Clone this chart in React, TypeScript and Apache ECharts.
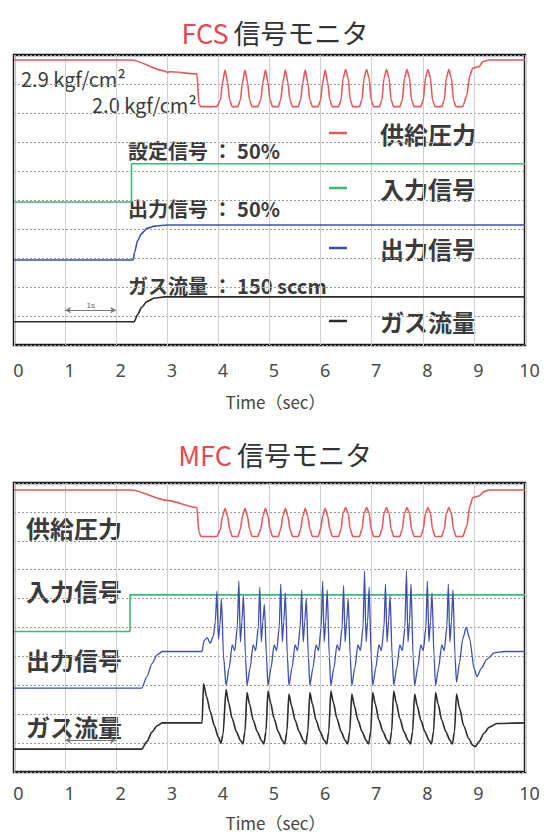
import React, { useEffect, useRef } from "react";
import * as echarts from "echarts";

const xTicks = [0, 1, 2, 3, 4, 5, 6, 7, 8, 9, 10];

// FCS (top chart) traces: [time sec, level]
const fcsPressure = [
  [0, 9.83], [2.3, 9.83], [2.95, 9.45], [3.0, 9.4], [3.05, 9.42], [3.58, 9.35], [3.62, 8.3], [3.66, 8.22], [3.97, 8.22],
  [4.04, 8.45], [4.08, 9.05], [4.13, 9.48], [4.18, 9.05], [4.22, 8.45], [4.27, 8.22], [4.38, 8.22],
  [4.43, 8.45], [4.47, 9.05], [4.52, 9.48], [4.57, 9.05], [4.61, 8.45], [4.66, 8.22], [4.77, 8.22],
  [4.83, 8.45], [4.87, 9.05], [4.92, 9.48], [4.97, 9.05], [5.01, 8.45], [5.06, 8.22], [5.17, 8.22],
  [5.22, 8.45], [5.26, 9.05], [5.31, 9.48], [5.36, 9.05], [5.4, 8.45], [5.45, 8.22], [5.56, 8.22],
  [5.61, 8.45], [5.65, 9.05], [5.7, 9.48], [5.75, 9.05], [5.79, 8.45], [5.84, 8.22], [5.95, 8.22],
  [6.0, 8.45], [6.04, 9.05], [6.09, 9.48], [6.14, 9.05], [6.18, 8.45], [6.23, 8.22], [6.35, 8.22],
  [6.4, 8.45], [6.44, 9.2], [6.49, 9.5], [6.54, 9.2], [6.58, 8.45], [6.63, 8.22], [6.76, 8.22],
  [6.81, 8.45], [6.85, 9.2], [6.9, 9.5], [6.95, 9.2], [6.99, 8.45], [7.04, 8.22], [7.15, 8.22],
  [7.2, 8.45], [7.24, 9.2], [7.29, 9.5], [7.34, 9.2], [7.38, 8.45], [7.43, 8.22], [7.55, 8.22],
  [7.6, 8.45], [7.64, 9.2], [7.69, 9.5], [7.74, 9.2], [7.78, 8.45], [7.83, 8.22], [7.96, 8.22],
  [8.01, 8.45], [8.05, 9.2], [8.1, 9.5], [8.15, 9.2], [8.19, 8.45], [8.24, 8.22], [8.37, 8.22],
  [8.42, 8.45], [8.46, 9.2], [8.51, 9.5], [8.56, 9.2], [8.6, 8.45], [8.65, 8.22], [8.78, 8.22],
  [8.86, 8.6], [8.92, 9.3], [8.98, 9.55], [9.1, 9.6], [9.18, 9.78], [9.3, 9.83], [10, 9.83],
];
const fcsInput = [[0, 4.93], [2.3, 4.93], [2.3, 6.25], [10, 6.25]];
const fcsOutput = [
  [0, 2.93], [2.33, 2.93], [2.36, 3.2], [2.42, 3.6], [2.5, 3.85], [2.6, 4.02], [2.75, 4.1], [3.0, 4.14], [10, 4.14],
];
const fcsFlow = [
  [0, 0.8], [2.35, 0.8], [2.42, 1.05], [2.5, 1.3], [2.6, 1.5], [2.75, 1.62], [2.95, 1.66], [10, 1.66],
];

// MFC (bottom chart) traces
const mfcPressure = [
  [0, 9.76], [2.3, 9.76], [3.0, 9.4], [3.58, 9.15], [3.62, 8.3], [3.66, 8.15], [3.97, 8.15],
  [4.04, 8.4], [4.08, 8.85], [4.13, 9.12], [4.18, 8.85], [4.22, 8.4], [4.27, 8.15], [4.38, 8.15],
  [4.43, 8.4], [4.47, 8.85], [4.52, 9.12], [4.57, 8.85], [4.61, 8.4], [4.66, 8.15], [4.77, 8.15],
  [4.83, 8.4], [4.87, 8.85], [4.92, 9.12], [4.97, 8.85], [5.01, 8.4], [5.06, 8.15], [5.17, 8.15],
  [5.22, 8.4], [5.26, 8.85], [5.31, 9.12], [5.36, 8.85], [5.4, 8.4], [5.45, 8.15], [5.56, 8.15],
  [5.61, 8.4], [5.65, 8.85], [5.7, 9.12], [5.75, 8.85], [5.79, 8.4], [5.84, 8.15], [5.95, 8.15],
  [6.0, 8.4], [6.04, 8.85], [6.09, 9.12], [6.14, 8.85], [6.18, 8.4], [6.23, 8.15], [6.35, 8.15],
  [6.4, 8.4], [6.44, 8.95], [6.49, 9.15], [6.54, 8.95], [6.58, 8.4], [6.63, 8.15], [6.76, 8.15],
  [6.81, 8.4], [6.85, 8.95], [6.9, 9.15], [6.95, 8.95], [6.99, 8.4], [7.04, 8.15], [7.15, 8.15],
  [7.2, 8.4], [7.24, 8.95], [7.29, 9.15], [7.34, 8.95], [7.38, 8.4], [7.43, 8.15], [7.55, 8.15],
  [7.6, 8.4], [7.64, 8.95], [7.69, 9.15], [7.74, 8.95], [7.78, 8.4], [7.83, 8.15], [7.96, 8.15],
  [8.01, 8.4], [8.05, 8.95], [8.1, 9.15], [8.15, 8.95], [8.19, 8.4], [8.24, 8.15], [8.37, 8.15],
  [8.42, 8.4], [8.46, 8.95], [8.51, 9.15], [8.56, 8.95], [8.6, 8.4], [8.65, 8.15], [8.78, 8.15],
  [8.86, 8.5], [8.92, 9.2], [8.98, 9.5], [9.1, 9.55], [9.2, 9.7], [9.3, 9.76], [10, 9.76],
];
const mfcInput = [[0, 4.86], [2.27, 4.86], [2.27, 6.13], [10, 6.13]];
const mfcOutput = [
  [0, 2.9], [2.5, 2.9], [2.6, 3.3], [2.7, 3.75], [2.8, 4.05], [2.9, 4.17], [3.68, 4.17],
  [3.72, 4.55], [3.78, 4.65], [3.84, 4.45], [3.9, 4.7], [3.94, 5.2], [3.97, 6.25], [4.0, 4.6], [4.03, 5.1], [4.06, 6.0], [4.1, 4.0],
  [4.15, 3.0], [4.21, 3.6], [4.27, 4.4], [4.32, 4.2], [4.37, 5.0], [4.4, 6.6], [4.43, 4.5], [4.46, 5.2], [4.49, 6.1], [4.53, 4.0],
  [4.56, 3.0], [4.62, 3.6], [4.68, 4.4], [4.73, 4.2], [4.78, 5.0], [4.81, 6.4], [4.84, 4.5], [4.87, 5.2], [4.9, 5.8], [4.94, 4.0],
  [4.97, 3.0], [5.03, 3.6], [5.09, 4.4], [5.14, 4.2], [5.19, 5.0], [5.22, 6.5], [5.25, 4.5], [5.28, 5.2], [5.31, 6.2], [5.35, 4.0],
  [5.38, 3.0], [5.44, 3.6], [5.5, 4.4], [5.55, 4.2], [5.6, 5.0], [5.63, 6.3], [5.66, 4.5], [5.69, 5.2], [5.72, 6.0], [5.76, 4.0],
  [5.79, 3.0], [5.85, 3.6], [5.91, 4.4], [5.96, 4.2], [6.01, 5.0], [6.04, 6.6], [6.07, 4.5], [6.1, 5.2], [6.13, 6.3], [6.17, 4.0],
  [6.2, 3.0], [6.26, 3.6], [6.32, 4.4], [6.37, 4.2], [6.42, 5.0], [6.45, 6.45], [6.48, 4.5], [6.51, 5.2], [6.54, 6.0], [6.58, 4.0],
  [6.61, 3.0], [6.67, 3.6], [6.73, 4.4], [6.78, 4.2], [6.83, 5.0], [6.86, 6.95], [6.89, 4.5], [6.92, 5.2], [6.95, 6.4], [6.99, 4.0],
  [7.02, 3.0], [7.08, 3.6], [7.14, 4.4], [7.19, 4.2], [7.24, 5.0], [7.27, 6.5], [7.3, 4.5], [7.33, 5.2], [7.36, 6.1], [7.4, 4.0],
  [7.43, 3.0], [7.49, 3.6], [7.55, 4.4], [7.6, 4.2], [7.65, 5.0], [7.68, 6.95], [7.71, 4.5], [7.74, 5.2], [7.77, 6.5], [7.81, 4.0],
  [7.84, 3.0], [7.9, 3.6], [7.96, 4.4], [8.01, 4.2], [8.06, 5.0], [8.09, 6.6], [8.12, 4.5], [8.15, 5.2], [8.18, 6.2], [8.22, 4.0],
  [8.25, 3.0], [8.31, 3.6], [8.37, 4.4], [8.42, 4.2], [8.47, 5.0], [8.5, 6.5], [8.53, 4.5], [8.56, 5.2], [8.59, 6.3], [8.63, 4.0],
  [8.66, 3.1], [8.72, 3.8], [8.78, 4.6], [8.85, 5.0], [8.92, 4.6], [9.0, 3.6], [9.06, 3.3], [9.15, 3.6], [9.25, 3.9], [9.4, 4.12], [9.6, 4.17], [10, 4.17],
];
const mfcFlow = [
  [0, 0.79], [2.5, 0.79], [2.6, 1.05], [2.7, 1.38], [2.8, 1.6], [2.9, 1.7], [3.68, 1.7], [3.71, 3.05],
  [3.77, 2.6], [3.84, 2.1], [3.92, 1.6], [4.0, 1.2], [4.05, 1.0], [4.09, 1.3],
  [4.15, 2.85], [4.2, 2.4], [4.27, 1.85], [4.35, 1.4], [4.43, 1.1], [4.48, 0.97], [4.52, 1.4],
  [4.56, 2.75], [4.61, 2.35], [4.68, 1.8], [4.76, 1.4], [4.84, 1.1], [4.89, 0.97], [4.93, 1.4],
  [4.97, 2.8], [5.02, 2.4], [5.09, 1.85], [5.17, 1.4], [5.25, 1.1], [5.3, 0.97], [5.34, 1.4],
  [5.38, 2.7], [5.43, 2.3], [5.5, 1.8], [5.58, 1.4], [5.66, 1.1], [5.71, 0.97], [5.75, 1.4],
  [5.79, 2.75], [5.84, 2.35], [5.91, 1.8], [5.99, 1.4], [6.07, 1.1], [6.12, 0.97], [6.16, 1.4],
  [6.2, 2.8], [6.25, 2.4], [6.32, 1.85], [6.4, 1.4], [6.48, 1.1], [6.53, 0.97], [6.57, 1.4],
  [6.61, 2.7], [6.66, 2.3], [6.73, 1.8], [6.81, 1.4], [6.89, 1.1], [6.94, 0.97], [6.98, 1.4],
  [7.02, 2.75], [7.07, 2.35], [7.14, 1.8], [7.22, 1.4], [7.3, 1.1], [7.35, 0.97], [7.39, 1.4],
  [7.43, 2.8], [7.48, 2.4], [7.55, 1.85], [7.63, 1.4], [7.71, 1.1], [7.76, 0.97], [7.8, 1.4],
  [7.84, 2.7], [7.89, 2.3], [7.96, 1.8], [8.04, 1.4], [8.12, 1.1], [8.17, 0.97], [8.21, 1.4],
  [8.25, 2.75], [8.3, 2.35], [8.37, 1.8], [8.45, 1.4], [8.53, 1.1], [8.58, 0.97], [8.62, 1.4],
  [8.66, 2.7], [8.72, 2.2], [8.8, 1.6], [8.9, 1.15], [8.98, 0.92], [9.03, 0.88], [9.1, 1.05], [9.2, 1.35], [9.3, 1.55], [9.45, 1.68], [10, 1.7],
];

const legendNames = ["供給圧力", "入力信号", "出力信号", "ガス流量"];
const fcsNotes = ["2.9 kgf/cm²", "2.0 kgf/cm²", "設定信号 ： 50%", "出力信号 ： 50%", "ガス流量 ： 150 sccm"];
const scaleSpan = [1, 2];

const RED = "#e35a5e";
const GREEN = "#3fb877";
const BLUE = "#3d4fae";
const BLACK = "#2a2a2a";
const TXT = "#3a3a3a";
const FONT = "'Noto Sans CJK JP', 'Noto Sans', sans-serif";

function xAxisFor(gridIndex: number, nameGap: number, labelMargin: number) {
  return {
    type: "value",
    gridIndex,
    min: 0,
    max: 10,
    interval: 1,
    axisLine: { show: false },
    axisTick: { show: false },
    axisLabel: { fontSize: 18, color: "#4a4a4a", margin: labelMargin, padding: [0, 0, 0, 9], fontFamily: "'Noto Sans', sans-serif" },
    splitLine: { show: true, lineStyle: { color: "#cfcfcf", width: 1, type: "solid" } },
    name: "Time（sec）",
    nameLocation: "middle",
    nameGap,
    nameTextStyle: { fontSize: 17, color: "#444", fontFamily: FONT, padding: [0, 0, 0, 12] },
    data: xTicks,
  };
}
function yAxisFor(gridIndex: number) {
  return {
    type: "value",
    gridIndex,
    min: 0,
    max: 10,
    interval: 1,
    axisLine: { show: false },
    axisTick: { show: false },
    axisLabel: { show: false },
    splitLine: { show: true, lineStyle: { color: "#9a9a9a", width: 1, type: [2, 2] } },
  };
}
function line(data: number[][], color: string, idx: number, extra: any = {}) {
  return {
    type: "line",
    xAxisIndex: idx,
    yAxisIndex: idx,
    data,
    showSymbol: false,
    symbol: "none",
    smooth: 0.25,
    smoothMonotone: "x",
    lineStyle: { color, width: 1.6 },
    silent: true,
    ...extra,
  };
}
function spanMark(y: number, showLabel: boolean) {
  return {
    silent: true,
    symbol: ["arrow", "arrow"],
    symbolSize: [5, 6],
    lineStyle: { color: "#777", width: 1, type: "solid" },
    label: { show: showLabel, formatter: "1s", position: "middle", fontSize: 8, color: "#666", distance: 1 },
    data: [[{ coord: [scaleSpan[0], y] }, { coord: [scaleSpan[1], y] }]],
  };
}

export default function App() {
  const ref = useRef<HTMLDivElement>(null);
  useEffect(() => {
    const chart = echarts.init(ref.current!, null, { renderer: "svg" });
    const legendYs = [133, 188, 248, 321];
    const legendColors = [RED, GREEN, BLUE, BLACK];
    const graphics: any[] = [];
    legendNames.forEach((n, i) => {
      graphics.push({
        type: "line",
        shape: { x1: 329, y1: legendYs[i], x2: 347, y2: legendYs[i] },
        style: { stroke: legendColors[i], lineWidth: 2.5 },
        silent: true,
      });
      graphics.push({
        type: "text",
        x: 380,
        y: legendYs[i],
        style: { text: n, fontSize: 24, fontWeight: "bold", fill: TXT, fontFamily: FONT, verticalAlign: "middle" },
        silent: true,
      });
    });
    const noteSpecs = [
      { x: 21, y: 78, size: 20, bold: false },
      { x: 92, y: 104, size: 20, bold: false },
      { x: 128, y: 150, size: 20, bold: true },
      { x: 128, y: 208, size: 20, bold: true },
      { x: 128, y: 285, size: 20, bold: true },
    ];
    fcsNotes.forEach((t, i) => {
      const s = noteSpecs[i];
      graphics.push({
        type: "text",
        x: s.x,
        y: s.y,
        style: { text: t, fontSize: s.size, fontWeight: s.bold ? "bold" : "normal", fill: TXT, fontFamily: FONT, verticalAlign: "middle" },
        silent: true,
      });
    });
    const mfcYs = [527, 590, 659, 726];
    legendNames.forEach((n, i) => {
      graphics.push({
        type: "text",
        x: 26,
        y: mfcYs[i],
        style: { text: n, fontSize: 24, fontWeight: "bold", fill: TXT, fontFamily: FONT, verticalAlign: "middle" },
        silent: true,
      });
    });

    const titleRich = {
      r: { color: "#e8474f", fontSize: 27, fontWeight: "normal", fontFamily: FONT },
      k: { color: "#333", fontSize: 27, fontWeight: "normal", fontFamily: FONT },
    };
    chart.setOption({
      animation: false,
      backgroundColor: "#ffffff",
      title: [
        { text: "{r|FCS} {k|信号モニタ}", left: "center", top: 14, textStyle: { fontWeight: "normal", rich: titleRich } },
        { text: "{r|MFC} {k|信号モニタ}", left: "center", top: 436, textStyle: { fontWeight: "normal", rich: titleRich } },
      ],
      grid: [
        { left: 14, right: 25, top: 55, height: 290, show: true, borderColor: "#1a1a1a", borderWidth: 2.5 },
        { left: 14, right: 25, top: 483, height: 289, show: true, borderColor: "#1a1a1a", borderWidth: 2.5 },
      ],
      xAxis: [xAxisFor(0, 48, 16), xAxisFor(1, 42, 12)],
      yAxis: [yAxisFor(0), yAxisFor(1)],
      series: [
        line(fcsPressure, RED, 0),
        line(fcsInput, GREEN, 0, { smooth: false }),
        line(fcsOutput, BLUE, 0),
        line(fcsFlow, BLACK, 0, { markLine: spanMark(1.2, true) }),
        line(mfcPressure, RED, 1),
        line(mfcInput, GREEN, 1, { smooth: false }),
        line(mfcOutput, BLUE, 1, { lineStyle: { color: BLUE, width: 1.3 } }),
        line(mfcFlow, BLACK, 1, { markLine: spanMark(1.1, false) }),
      ],
      graphic: graphics,
    });
    return () => chart.dispose();
  }, []);
  return <div ref={ref} style={{ position: "fixed", left: 0, top: 0, width: 550, height: 836 }} />;
}
